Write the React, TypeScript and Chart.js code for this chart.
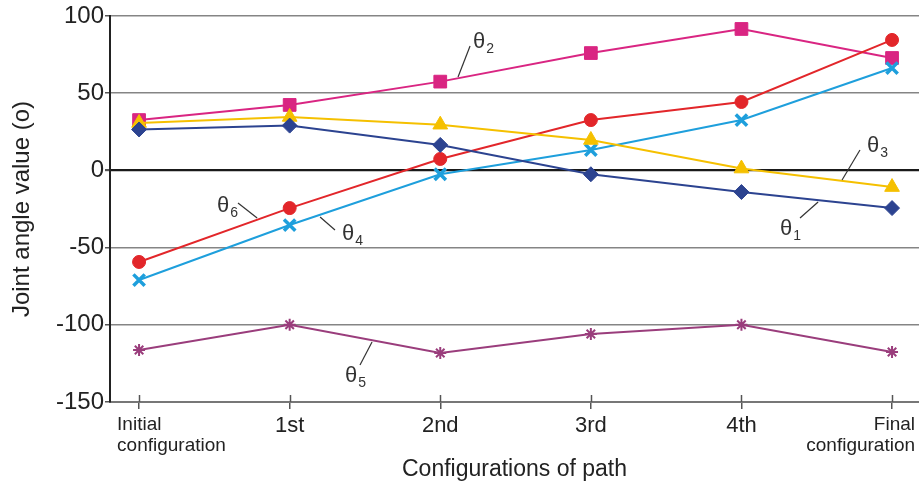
import React, { useEffect, useRef } from "react";
import { Chart, registerables } from "chart.js";

Chart.register(...registerables);

const categories: (string | string[])[] = [
  ["Initial", "configuration"],
  "1st",
  "2nd",
  "3rd",
  "4th",
  ["Final", "configuration"],
];
const yTickValues = [-150, -100, -50, 0, 50, 100];

const theta1 = [26.5, 29, 16.5, -2.5, -14, -24.4];
const theta2 = [32.6, 42.4, 57.5, 76, 91.6, 72.8];
const theta3 = [30.7, 34.6, 29.6, 19.7, 1.2, -10.8];
const theta4 = [-71, -35.4, -2.5, 13.2, 32.6, 66.3];
const theta5 = [-116.3, -100, -118.3, -106, -100, -117.6];
const theta6 = [-59.3, -24.4, 7.4, 32.6, 44.3, 84.5];

const seriesNames = ["θ1", "θ2", "θ3", "θ4", "θ5", "θ6"];

// annotation labels: [x, y (baseline-left of θ), leader x1, y1, x2, y2] in data units
const annoSubs = ["2", "3", "1", "4", "6", "5"];
const annoPos = [
  [2.218, 79.3, 2.198, 80.6, 2.118, 60.5],
  [4.834, 11.9, 4.787, 13.2, 4.668, -6.2],
  [4.256, -41.8, 4.389, -30.8, 4.509, -20.5],
  [1.348, -45.1, 1.301, -38.6, 1.202, -30.2],
  [0.518, -26.9, 0.657, -21.1, 0.784, -30.8],
  [1.368, -137, 1.467, -126, 1.547, -111.1],
];

const FONT = "'Liberation Sans', Arial, sans-serif";

const overlayPlugin = {
  id: "overlay",
  afterDraw(chart: any) {
    const ctx = chart.ctx;
    const xs = chart.scales.x;
    const ys = chart.scales.y;
    const bottom = chart.chartArea.bottom;
    ctx.save();
    // inner part of x tick marks
    ctx.strokeStyle = "#555";
    ctx.lineWidth = 1.5;
    categories.forEach((_, i) => {
      const px = Math.round(xs.getPixelForValue(i)) + 0.5;
      ctx.beginPath();
      ctx.moveTo(px, bottom - 7);
      ctx.lineTo(px, bottom);
      ctx.stroke();
    });
    // x category labels
    ctx.fillStyle = "#222";
    ctx.textBaseline = "alphabetic";
    categories.forEach((c, i) => {
      const px = xs.getPixelForValue(i);
      if (Array.isArray(c)) {
        ctx.font = `19px ${FONT}`;
        const first = i === 0;
        ctx.textAlign = first ? "left" : "right";
        const x = first ? px - 22 : px + 23;
        ctx.fillText(c[0], x, bottom + 28);
        ctx.fillText(c[1], x, bottom + 49);
      } else {
        ctx.font = `22px ${FONT}`;
        ctx.textAlign = "center";
        ctx.fillText(c, px, bottom + 30);
      }
    });
    // theta annotations
    ctx.strokeStyle = "#333";
    ctx.lineWidth = 1.2;
    ctx.fillStyle = "#333";
    annoPos.forEach((a, k) => {
      ctx.beginPath();
      ctx.moveTo(xs.getPixelForValue(a[2]), ys.getPixelForValue(a[3]));
      ctx.lineTo(xs.getPixelForValue(a[4]), ys.getPixelForValue(a[5]));
      ctx.stroke();
      const tx = xs.getPixelForValue(a[0]);
      const ty = ys.getPixelForValue(a[1]);
      ctx.textAlign = "left";
      ctx.font = `22px ${FONT}`;
      ctx.fillText("θ", tx, ty);
      const w = ctx.measureText("θ").width;
      ctx.font = `14px ${FONT}`;
      ctx.fillText(annoSubs[k], tx + w + 1, ty + 5);
    });
    ctx.restore();
  },
};

export default function App() {
  const ref = useRef<HTMLCanvasElement | null>(null);
  useEffect(() => {
    if (!ref.current) return;
    const mk = (
      i: number,
      values: number[],
      color: string,
      style: string,
      radius: number,
      pbw: number
    ) => ({
      label: seriesNames[i],
      data: values.map((v, k) => ({ x: k, y: v })),
      borderColor: color,
      backgroundColor: color,
      borderWidth: 2,
      pointStyle: style,
      pointRadius: radius,
      pointBorderWidth: pbw,
      pointBackgroundColor: color,
      pointBorderColor: color,
      tension: 0,
    });
    const chart = new Chart(ref.current, {
      type: "line",
      data: {
        datasets: [
          mk(4, theta5, "#9a3d7c", "star", 6, 2),
          mk(0, theta1, "#2c4390", "rectRot", 7.5, 1),
          mk(2, theta3, "#f5c000", "triangle", 8.5, 1),
          mk(3, theta4, "#1e9fdc", "crossRot", 8, 3.5),
          mk(5, theta6, "#e2262a", "circle", 6.5, 1),
          mk(1, theta2, "#d92582", "rect", 9, 1),
        ],
      },
      plugins: [overlayPlugin],
      options: {
        animation: false,
        responsive: true,
        maintainAspectRatio: false,
        layout: { autoPadding: false, padding: { top: 16, right: 0, left: 0, bottom: 0 } },
        plugins: { legend: { display: false }, tooltip: { enabled: false } },
        scales: {
          x: {
            type: "linear",
            min: -0.193,
            max: 5.179,
            afterBuildTicks: (s: any) => {
              s.ticks = categories.map((_, i) => ({ value: i }));
            },
            afterFit: (s: any) => {
              s.height = 84;
            },
            ticks: { display: false },
            grid: {
              drawOnChartArea: false,
              drawTicks: true,
              tickLength: 7,
              color: "#555",
              lineWidth: 1.5,
            },
            border: { color: "#777", width: 2 },
            title: {
              display: true,
              text: "Configurations of path",
              color: "#222",
              font: { family: FONT, size: 23 },
              padding: { top: 0, bottom: 3 },
            },
          },
          y: {
            type: "linear",
            min: -150,
            max: 100,
            afterBuildTicks: (s: any) => {
              s.ticks = yTickValues.map((v) => ({ value: v }));
            },
            afterFit: (s: any) => {
              s.width = 110;
            },
            ticks: {
              color: "#222",
              font: { family: FONT, size: 24 },
              padding: 1,
            },
            grid: {
              color: (c: any) => (c.tick && c.tick.value === 0 ? "#1a1a1a" : "#858585"),
              lineWidth: (c: any) => (c.tick && c.tick.value === 0 ? 2.2 : 1.5),
              tickLength: 5,
              tickColor: "#555",
            },
            border: { color: "#222", width: 2 },
            title: {
              display: true,
              text: "Joint angle value (o)",
              color: "#222",
              font: { family: FONT, size: 24 },
              padding: { top: 8, bottom: 8 },
            },
          },
        },
      } as any,
    });
    return () => chart.destroy();
  }, []);
  return (
    <div style={{ position: "absolute", left: 0, top: 0, width: 919, height: 486, background: "#fff" }}>
      <canvas ref={ref} />
    </div>
  );
}
